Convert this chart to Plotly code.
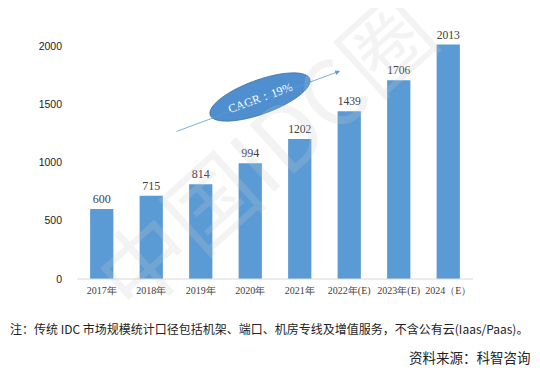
import numpy as np
import plotly.graph_objects as go

categories = ["2017年", "2018年", "2019年", "2020年", "2021年", "2022年(E)", "2023年(E)", "2024（E）"]
values = [600, 715, 814, 994, 1202, 1439, 1706, 2013]
y_ticks = [0, 500, 1000, 1500, 2000]
cagr_label = "CAGR：19%"
note_text = "注：传统 IDC 市场规模统计口径包括机架、端口、机房专线及增值服务，不含公有云(Iaas/Paas)。"
source_text = "资料来源：科智咨询"
watermark = "中国IDC圈"

# page body has an 8px margin; figure drawn inside it
OFF = 8
W, H = 524, 359
L, PW = 77 - OFF, 396
R = W - L - PW
BOT = 279 - OFF
T = 3
B = H - BOT
PH = BOT - T

def px(x):
    return (x - OFF - L) / PW

def py(y):
    return (BOT - (y - OFF)) / PH

fig = go.Figure()
fig.add_trace(go.Bar(
    x=categories, y=values,
    marker=dict(color="#5B9BD5", line=dict(width=0)),
    text=[str(v) for v in values], textposition="outside",
    textfont=dict(family="Liberation Serif, DejaVu Serif, serif", size=12, color="#404040"),
    cliponaxis=False,
))

# rotated ellipse for CAGR (window pixels -> paper)
cx, cy, a, b, ang = 260, 97, 53, 17, np.deg2rad(20)
t = np.linspace(0, 2 * np.pi, 72)
ex = cx + a * np.cos(t) * np.cos(ang) - b * np.sin(t) * np.sin(ang)
ey = cy - (a * np.cos(t) * np.sin(ang) + b * np.sin(t) * np.cos(ang))
path = "M " + " L ".join(f"{px(xx):.5f},{py(yy):.5f}" for xx, yy in zip(ex, ey)) + " Z"

shapes = [
    dict(type="line", xref="paper", yref="paper", x0=0, x1=1, y0=0, y1=0,
         line=dict(color="#D9D9D9", width=1)),
    dict(type="path", xref="paper", yref="paper", path=path,
         fillcolor="#4F8FCF", line=dict(color="#41719C", width=0.8), layer="above",
         label=dict(text=cagr_label, textangle=-20, textposition="middle center",
                    font=dict(family="Liberation Serif, DejaVu Serif, serif", size=12, color="white"))),
]

annotations = [
    dict(text=watermark, xref="paper", yref="paper", x=px(262), y=py(150),
         showarrow=False, textangle=-42,
         font=dict(family="Noto Sans CJK SC", size=90, color="rgba(200,200,200,0.22)")),
    dict(xref="paper", yref="paper", x=px(340), y=py(71), ax=175 - 340, ay=132 - 71,
         axref="pixel", ayref="pixel", text="", showarrow=True,
         arrowhead=2, arrowsize=1.2, arrowwidth=0.8, arrowcolor="#5B9BD5"),
    dict(text=note_text, xref="paper", yref="paper", x=px(8), y=py(328),
         xanchor="left", yanchor="middle", showarrow=False,
         font=dict(family="Noto Sans CJK SC", size=12, color="#222")),
    dict(text=source_text, xref="paper", yref="paper", x=px(533), y=py(357),
         xanchor="right", yanchor="middle", showarrow=False,
         font=dict(family="Noto Sans CJK SC", size=13.5, color="#222")),
]

fig.update_layout(
    width=W, height=H,
    margin=dict(l=L, r=R, t=T, b=B, pad=0, autoexpand=False),
    paper_bgcolor="white", plot_bgcolor="white",
    showlegend=False, bargap=0.53,
    shapes=shapes, annotations=annotations,
    xaxis=dict(showline=False, showgrid=False, ticks="", tickangle=0, automargin=False,
               ticklabelstandoff=4,
               tickfont=dict(family="Liberation Serif, DejaVu Serif, serif", size=10, color="#404040")),
    yaxis=dict(range=[0, 2300], tickvals=y_ticks, showgrid=False, showline=False, automargin=False,
               zeroline=False, ticks="", ticklabelstandoff=14,
               tickfont=dict(family="Liberation Sans, Arial, sans-serif", size=10.5, color="#222")),
)

fig.write_html("out.html")
